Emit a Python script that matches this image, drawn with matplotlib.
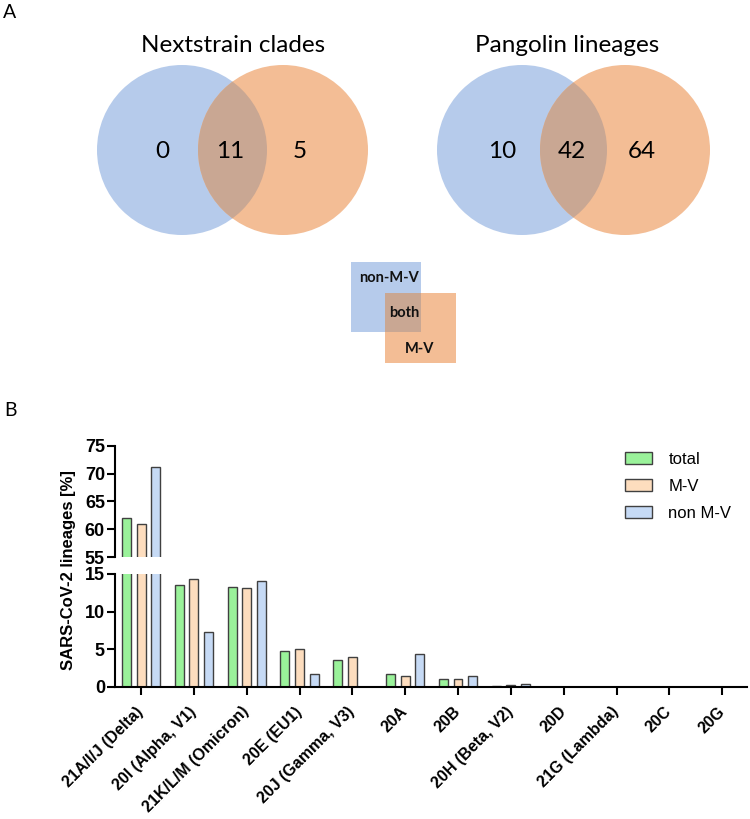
import matplotlib
matplotlib.use('Agg')
import matplotlib.pyplot as plt
from matplotlib.patches import Circle, Rectangle, Patch
import numpy as np

# ---------------- data ----------------
venn_titles = ['Nextstrain clades', 'Pangolin lineages']
venn_non_mv_only = [0, 10]
venn_both = [11, 42]
venn_mv_only = [5, 64]

box_labels = ['non-M-V', 'both', 'M-V']

categories = ['21A/I/J (Delta)', '20I (Alpha, V1)', '21K/L/M (Omicron)', '20E (EU1)',
              '20J (Gamma, V3)', '20A', '20B', '20H (Beta, V2)', '20D',
              '21G (Lambda)', '20C', '20G']
total = [62.0, 13.6, 13.3, 4.7, 3.6, 1.7, 1.05, 0.1, 0, 0, 0, 0]
mv = [61.0, 14.3, 13.2, 5.05, 3.9, 1.4, 1.0, 0.15, 0, 0, 0, 0]
non_mv = [71.1, 7.3, 14.1, 1.7, 0, 4.3, 1.4, 0.3, 0, 0, 0, 0]
series_labels = ['total', 'M-V', 'non M-V']
y_label = 'SARS-CoV-2 lineages [%]'

# ---------------- style ----------------
BLUE = '#B6CBEB'
ORANGE = '#F3BD95'
OVERLAP = '#C9A793'
BAR_COLORS = ['#9AF29A', '#FDDDBE', '#C6DAF5']
EDGE = '#404040'
venn_font = ['Lato', 'DejaVu Sans']
bar_font = ['Liberation Sans', 'DejaVu Sans']

W, H = 750, 819
fig = plt.figure(figsize=(W / 100, H / 100), dpi=100)

# overlay axes in pixel coordinates for panel A
axo = fig.add_axes([0, 0, 1, 1])
axo.set_xlim(0, W)
axo.set_ylim(H, 0)
axo.axis('off')

fig.text(10 / W, 1 - 12 / H, 'A', fontsize=14, family=venn_font, ha='center', va='center')
fig.text(10 / W, 1 - 410 / H, 'B', fontsize=14, family=venn_font, ha='center', va='center')

venn_cx = [(182, 283), (522, 625)]
title_x = [233, 567]
cy, r = 150, 85
for i in range(2):
    bx, ox = venn_cx[i]
    cb = Circle((bx, cy), r, facecolor=BLUE, edgecolor='none')
    co = Circle((ox, cy), r, facecolor=ORANGE, edgecolor='none')
    axo.add_patch(cb)
    axo.add_patch(co)
    ov = Circle((ox, cy), r, facecolor=OVERLAP, edgecolor='none')
    axo.add_patch(ov)
    ov.set_clip_path(cb)
    axo.text(title_x[i], 45, venn_titles[i], fontsize=17.5, family=venn_font,
             ha='center', va='center')
    mid = ((ox - r) + (bx + r)) / 2
    axo.text(bx - 20, cy + 2, str(venn_non_mv_only[i]), fontsize=17.5, family=venn_font,
             ha='center', va='center')
    axo.text(mid - 2, cy + 2, str(venn_both[i]), fontsize=17.5, family=venn_font,
             ha='center', va='center')
    axo.text(ox + 17, cy + 2, str(venn_mv_only[i]), fontsize=17.5, family=venn_font,
             ha='center', va='center')

# small key
kb = Rectangle((351, 262), 70, 70, facecolor=BLUE, edgecolor='none')
ko = Rectangle((385, 293), 71, 70, facecolor=ORANGE, edgecolor='none')
axo.add_patch(kb)
axo.add_patch(ko)
kov = Rectangle((385, 293), 71, 70, facecolor=OVERLAP, edgecolor='none')
axo.add_patch(kov)
kov.set_clip_path(kb)
axo.text(389, 278, box_labels[0], fontsize=10.5, fontweight='bold', family=venn_font,
         ha='center', va='center', color='#111111')
axo.text(404, 313, box_labels[1], fontsize=10.5, fontweight='bold', family=venn_font,
         ha='center', va='center', color='#111111')
axo.text(420, 349, box_labels[2], fontsize=10.5, fontweight='bold', family=venn_font,
         ha='center', va='center', color='#111111')

# ---------------- panel B ----------------
left = 114.6 / W
width = (747 - 114.6) / W
ax_low = fig.add_axes([left, 1 - 686.5 / H, width, 112.5 / H])
ax_up = fig.add_axes([left, 1 - 557 / H, width, 111.3 / H])

x = np.arange(len(categories))
offsets = [-0.276, 0.0, 0.276]
bw = 0.17
series = [total, mv, non_mv]
for ax in (ax_low, ax_up):
    for s, off, col in zip(series, offsets, BAR_COLORS):
        ax.bar(x + off, s, width=bw, color=col, edgecolor=EDGE, linewidth=1.0, zorder=2)
    ax.set_xlim(-0.5, 11.47)
    for sp in ('top', 'right'):
        ax.spines[sp].set_visible(False)
    ax.spines['left'].set_linewidth(1.5)
    ax.spines['bottom'].set_linewidth(1.5)
    ax.tick_params(axis='y', length=6, width=1.5, pad=1.0, labelsize=13)
    ax.tick_params(axis='x', length=6, width=1.5, pad=10.5)
    ax.patch.set_alpha(0)

ax_low.set_ylim(0, 15)
ax_low.set_yticks([0, 5, 10, 15])
ax_low.set_xticks(x)
ax_low.set_xticklabels(categories, rotation=45, ha='right', va='center',
                       rotation_mode='anchor', fontsize=11.5, fontweight='bold',
                       family=bar_font)

ax_up.set_ylim(55, 75)
ax_up.set_yticks([55, 60, 65, 70, 75])
ax_up.spines['bottom'].set_visible(False)
ax_up.set_xticks([])

for ax in (ax_low, ax_up):
    for lab in ax.get_yticklabels():
        lab.set_fontweight('bold')
        lab.set_family(bar_font)

fig.text(69 / W, 1 - 570 / H, y_label, rotation=90, ha='center', va='center',
         fontsize=12, fontweight='bold', family=bar_font)

handles = [Patch(facecolor=c, edgecolor=EDGE, linewidth=1.0) for c in BAR_COLORS]
fig.legend(handles, series_labels, loc='upper left',
           bbox_to_anchor=(625 / W, 1 - 452 / H), frameon=False,
           prop={'family': bar_font, 'size': 12},
           handlelength=1.6, handleheight=0.68, handletextpad=1.0,
           labelspacing=0.72, borderpad=0, borderaxespad=0)

fig.savefig('out.png', dpi=100)
